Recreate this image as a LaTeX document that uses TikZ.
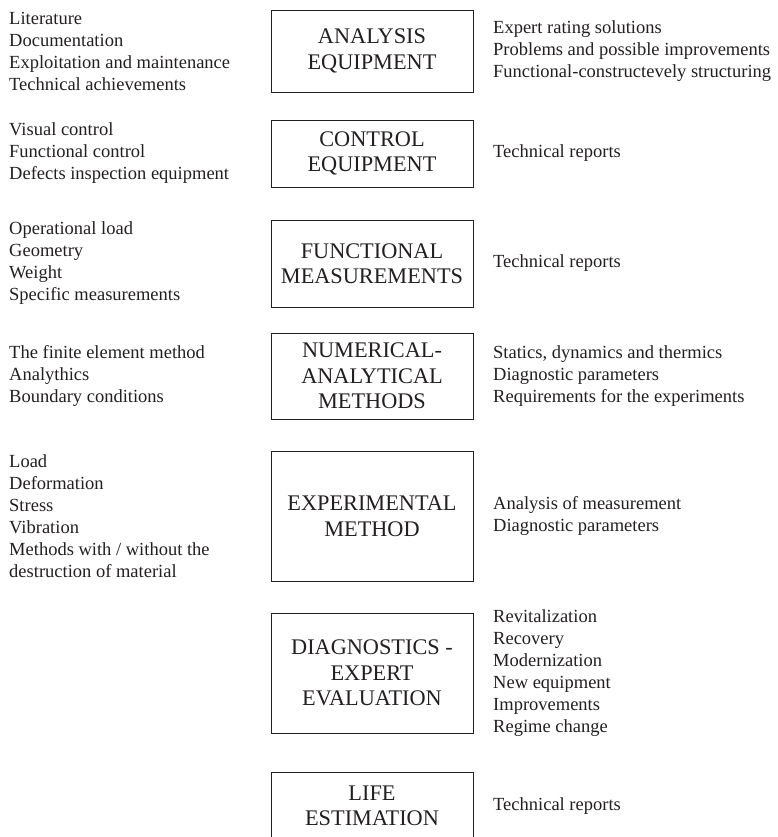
\documentclass[tikz,border=0pt]{standalone}
\usepackage{fontspec}
\setmainfont{Liberation Serif}
\definecolor{inkgray}{RGB}{35,31,32}
\usetikzlibrary{positioning}

\begin{document}
\begin{tikzpicture}[x=1pt,y=-1pt,
  stagebox/.style={draw=inkgray,line width=0.9pt,minimum width=202pt,align=center,inner sep=0pt,text=inkgray,font=\fontsize{22.3}{25.5}\selectfont},
  notes/.style={anchor=west,align=left,inner sep=0pt,text=inkgray,font=\fontsize{18.5}{22}\selectfont}]
  \useasboundingbox (0,0) rectangle (777,837);
  \coordinate (leftedge) at (9,0);
  \coordinate (rightedge) at (493,0);
  \node[stagebox,minimum height=82pt] (analysis) at (372,51) {ANALYSIS\\EQUIPMENT};
  \node[stagebox,minimum height=67pt] (control) at (372,153.5) {CONTROL\\EQUIPMENT};
  \node[stagebox,minimum height=87pt] (functional) at (372,263.5) {FUNCTIONAL\\MEASUREMENTS};
  \node[stagebox,minimum height=86pt] (numerical) at (372,376) {NUMERICAL-\\ANALYTICAL\\METHODS};
  \node[stagebox,minimum height=130pt] (experimental) at (372,516) {EXPERIMENTAL\\METHOD};
  \node[stagebox,minimum height=120pt] (diagnostics) at (372,673) {DIAGNOSTICS -\\EXPERT\\EVALUATION};
  \node[stagebox,minimum height=68pt] (life) at (372,806) {LIFE\\ESTIMATION};
  \node[notes] (inanalysis) at (analysis -| leftedge) {Literature\\Documentation\\Exploitation and maintenance\\Technical achievements};
  \node[notes] (incontrol) at (control -| leftedge) {Visual control\\Functional control\\Defects inspection equipment};
  \node[notes] (infunctional) at (functional -| leftedge) {Operational load\\Geometry\\Weight\\Specific measurements};
  \node[notes] (innumerical) at (numerical -| leftedge) {The finite element method\\Analythics\\Boundary conditions};
  \node[notes] (inexperimental) at (experimental -| leftedge) {Load\\Deformation\\Stress\\Vibration\\Methods with / without the\\destruction of material};
  \node[notes] (outanalysis) at (analysis -| rightedge) {Expert rating solutions\\Problems and possible improvements\\Functional-constructevely structuring};
  \node[notes] (outcontrol) at (control -| rightedge) {Technical reports};
  \node[notes] (outfunctional) at (functional -| rightedge) {Technical reports};
  \node[notes] (outnumerical) at (numerical -| rightedge) {Statics, dynamics and thermics\\Diagnostic parameters\\Requirements for the experiments};
  \node[notes] (outexperimental) at (experimental -| rightedge) {Analysis of measurement\\Diagnostic parameters};
  \node[notes] (outdiagnostics) at (diagnostics -| rightedge) {Revitalization\\Recovery\\Modernization\\New equipment\\Improvements\\Regime change};
  \node[notes] (outlife) at (life -| rightedge) {Technical reports};
\end{tikzpicture}
\end{document}
